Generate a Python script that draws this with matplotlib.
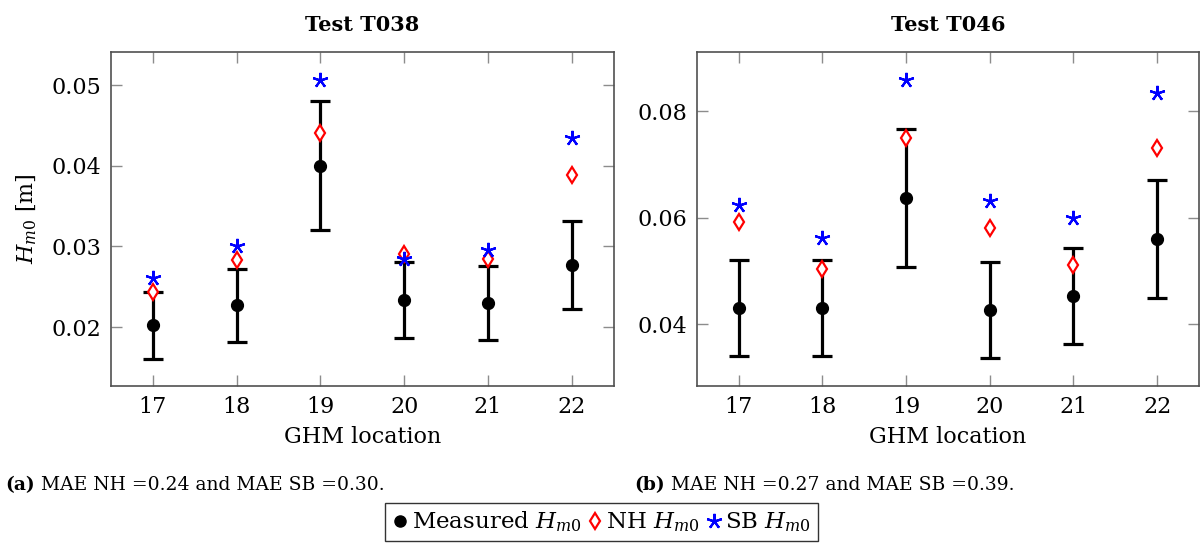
import matplotlib
matplotlib.use("Agg")
import matplotlib.pyplot as plt
from matplotlib.lines import Line2D

plt.rcParams["font.family"] = ["DejaVu Serif"]
plt.rcParams["mathtext.fontset"] = "dejavuserif"

# GHM gauge locations
locations = [17, 18, 19, 20, 21, 22]
tick_labels = ["17", "18", "19", "20", "21", "22"]

# Test T038
t038_measured = [0.0202, 0.0227, 0.0400, 0.0234, 0.0230, 0.0277]
t038_error = [0.0041, 0.0045, 0.0080, 0.0047, 0.0046, 0.0055]
t038_nh = [0.0244, 0.0283, 0.0441, 0.0290, 0.0284, 0.0389]
t038_sb = [0.0261, 0.0301, 0.0506, 0.0284, 0.0296, 0.0434]

# Test T046
t046_measured = [0.0431, 0.0431, 0.0637, 0.0426, 0.0453, 0.0560]
t046_error = [0.0090, 0.0090, 0.0130, 0.0090, 0.0090, 0.0110]
t046_nh = [0.0591, 0.0504, 0.0749, 0.0581, 0.0512, 0.0730]
t046_sb = [0.0623, 0.0562, 0.0858, 0.0631, 0.0600, 0.0834]

titles = ["Test T038", "Test T046"]
captions = [("(a)", " MAE NH =0.24 and MAE SB =0.30."),
            ("(b)", " MAE NH =0.27 and MAE SB =0.39.")]

W, H = 1204, 548
fig = plt.figure(figsize=(W / 100, H / 100), dpi=100)

star = (5, 2, 0)
spine_col = "#505050"
tick_col = "#8c8c8c"
nh_style = dict(marker="d", markersize=8.5, markerfacecolor="white",
                markeredgecolor="red", markeredgewidth=1.6)
sb_style = dict(marker=star, markersize=11, markeredgecolor="blue",
                markeredgewidth=1.6)


def panel(rect, measured, err, nh, sb, title, ylim, yticks):
    ax = fig.add_axes(rect)
    ax.errorbar(locations, measured, yerr=err, fmt="o", color="black",
                markersize=8.5, elinewidth=2.3, capsize=7, capthick=2.3,
                zorder=3)
    ax.plot(locations, nh, linestyle="none", zorder=4, **nh_style)
    ax.plot(locations, sb, linestyle="none", zorder=5, **sb_style)
    ax.set_xlim(16.5, 22.5)
    ax.set_ylim(*ylim)
    ax.set_xticks(locations)
    ax.set_xticklabels(tick_labels)
    ax.set_yticks(yticks)
    ax.set_yticklabels([f"{v:.2f}" for v in yticks])
    ax.tick_params(direction="in", length=8, width=1, color=tick_col,
                   labelsize=16, top=True, right=True, pad=7)
    for s in ax.spines.values():
        s.set_color(spine_col)
        s.set_linewidth(1.2)
    ax.set_title(title, fontsize=15, fontweight="bold", pad=15)
    ax.set_xlabel("GHM location", fontsize=16, labelpad=6)
    return ax


ax1 = panel([111 / W, 1 - 386 / H, 502.7 / W, 334 / H],
            t038_measured, t038_error, t038_nh, t038_sb, titles[0],
            (0.0127, 0.0541), [0.02, 0.03, 0.04, 0.05])
ax1.set_ylabel(r"$H_{m0}$ [m]", fontsize=16, labelpad=9)

ax2 = panel([696.7 / W, 1 - 386 / H, 502.3 / W, 334 / H],
            t046_measured, t046_error, t046_nh, t046_sb, titles[1],
            (0.0284, 0.0911), [0.04, 0.06, 0.08])

# Sub-figure captions
for (tag, text), x in zip(captions, [5 / W, 634 / W]):
    t = fig.text(x, 1 - 485 / H, tag, fontsize=13.5, fontweight="bold",
                 va="center", ha="left")
    fig.canvas.draw()
    bb = t.get_window_extent()
    fig.text(bb.x1 / W, 1 - 485 / H, text, fontsize=13.5,
             va="center", ha="left")

handles = [
    Line2D([], [], linestyle="none", marker="o", color="black", markersize=8),
    Line2D([], [], linestyle="none", **nh_style),
    Line2D([], [], linestyle="none", **sb_style),
]
labels = [r"Measured $H_{m0}$", r"NH $H_{m0}$", r"SB $H_{m0}$"]
leg = fig.legend(handles, labels, loc="upper center",
                 bbox_to_anchor=(601.5 / W, 1 - 503 / H), ncol=3,
                 fontsize=16.5, frameon=True, fancybox=False,
                 edgecolor="black", handlelength=0.7, handletextpad=0.15,
                 columnspacing=0.25, borderpad=0.3, borderaxespad=0)
leg.get_frame().set_linewidth(1.0)

fig.savefig("out.png", dpi=100)
